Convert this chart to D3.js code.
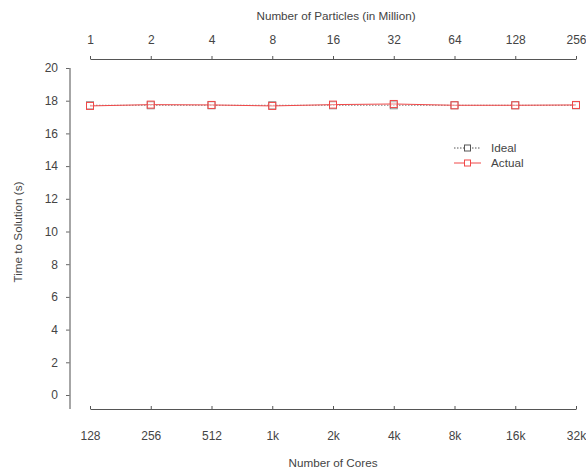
<!DOCTYPE html>
<html>
<head>
<meta charset="utf-8">
<script src="https://cdn.jsdelivr.net/npm/d3@7"></script>
<style>
  body { margin: 0; background: #fff; }
  svg { display: block; font-family: "Liberation Sans", Arial, sans-serif; }
</style>
</head>
<body>
<svg id="chart" width="586" height="470"></svg>
<script>
// Weak-scaling run: cores and particle count double together
const cores = ["128", "256", "512", "1k", "2k", "4k", "8k", "16k", "32k"];
const particles = ["1", "2", "4", "8", "16", "32", "64", "128", "256"];
const idealTime = [17.72, 17.72, 17.72, 17.72, 17.72, 17.72, 17.72, 17.72, 17.72];
const actualTime = [17.68, 17.76, 17.74, 17.68, 17.76, 17.8, 17.72, 17.72, 17.74];
const yTicks = [0, 2, 4, 6, 8, 10, 12, 14, 16, 18, 20];

const svg = d3.select("#chart");
const textColor = "#444";
const tickFont = "12px";
const titleFont = "11.7px";

const x = d3.scalePoint().domain(d3.range(cores.length)).range([90, 576]);
const y = d3.scaleLinear().domain([0, 20]).range([395, 68]);

// Left axis
const yAxis = svg.append("g").attr("transform", "translate(70,0)")
  .call(d3.axisLeft(y).tickValues(yTicks).tickSize(4).tickPadding(8));
yAxis.select(".domain").remove();
yAxis.append("line").attr("x1", 0).attr("x2", 0).attr("y1", 68).attr("y2", 409)
  .attr("stroke", "#888").attr("stroke-width", 1.5);
yAxis.selectAll(".tick line").attr("stroke", "#666");
yAxis.selectAll(".tick text").attr("fill", textColor).style("font-size", tickFont);

// Bottom axis: number of cores
const xBottom = svg.append("g").attr("transform", "translate(0,409)")
  .call(d3.axisBottom(x).tickFormat(i => cores[i]).tickSize(-3).tickPadding(22).tickSizeOuter(0));
xBottom.select(".domain").attr("stroke", "#555");
xBottom.selectAll(".tick line").attr("stroke", "#555");
xBottom.selectAll(".tick text").attr("fill", textColor).style("font-size", tickFont);

// Top axis: number of particles
const xTop = svg.append("g").attr("transform", "translate(0,59)")
  .call(d3.axisTop(x).tickFormat(i => particles[i]).tickSize(3).tickPadding(12).tickSizeOuter(0));
xTop.select(".domain").attr("stroke", "#555");
xTop.selectAll(".tick line").attr("stroke", "#555");
xTop.selectAll(".tick text").attr("fill", textColor).style("font-size", tickFont);

// Axis titles
svg.append("text").attr("x", 336).attr("y", 20).attr("text-anchor", "middle")
  .attr("fill", textColor).style("font-size", titleFont).text("Number of Particles (in Million)");
svg.append("text").attr("x", 333).attr("y", 467).attr("text-anchor", "middle")
  .attr("fill", textColor).style("font-size", titleFont).text("Number of Cores");
svg.append("text").attr("transform", "translate(22,232) rotate(-90)").attr("text-anchor", "middle")
  .attr("fill", textColor).style("font-size", titleFont).text("Time to Solution (s)");

const line = d3.line().x((d, i) => x(i)).y(d => y(d));

function drawSeries(values, color, dash, width) {
  svg.append("path").datum(values).attr("d", line)
    .attr("fill", "none").attr("stroke", color).attr("stroke-width", width)
    .attr("stroke-dasharray", dash);
  svg.append("g").selectAll("rect").data(values).join("rect")
    .attr("x", (d, i) => x(i) - 3.5).attr("y", d => y(d) - 3.5)
    .attr("width", 7).attr("height", 7)
    .attr("fill", "#fff").attr("fill-opacity", 0.3).attr("stroke", color).attr("stroke-width", 1);
}

drawSeries(idealTime, "#888", "1.5,1.5", 1);
drawSeries(actualTime, "#f04848", null, 1);

// Legend
const legend = [
  { name: "Ideal", color: "#555", dash: "1.5,1.5" },
  { name: "Actual", color: "#f04848", dash: null }
];
const lg = svg.append("g");
legend.forEach((d, i) => {
  const yy = 148 + i * 15;
  lg.append("line").attr("x1", 454).attr("x2", 481).attr("y1", yy).attr("y2", yy)
    .attr("stroke", d.color).attr("stroke-dasharray", d.dash);
  lg.append("rect").attr("x", 464.5).attr("y", yy - 3).attr("width", 6).attr("height", 6)
    .attr("fill", "#fff").attr("stroke", d.color);
  lg.append("text").attr("x", 491).attr("y", yy + 4).attr("fill", textColor)
    .style("font-size", titleFont).text(d.name);
});
</script>
</body>
</html>
